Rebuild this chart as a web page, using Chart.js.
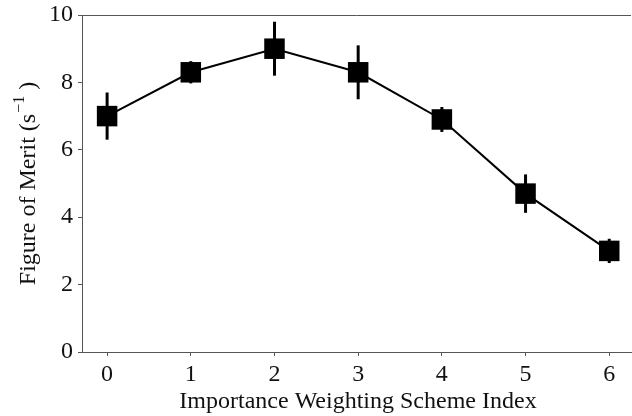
<!DOCTYPE html>
<html><head><meta charset="utf-8">
<script src="https://cdn.jsdelivr.net/npm/chart.js@4"></script>
<style>html,body{margin:0;padding:0;background:#fff}canvas{display:block}</style>
</head><body>
<canvas id="c" width="632" height="416"></canvas>
<script>
// Figure of merit for each importance weighting scheme, with error half-widths
const schemeIndex = [0, 1, 2, 3, 4, 5, 6];
const figureOfMerit = [7.0, 8.3, 9.0, 8.3, 6.9, 4.7, 3.0];
const meritError = [0.7, 0.33, 0.8, 0.8, 0.37, 0.57, 0.36];
const yTickValues = [0, 2, 4, 6, 8, 10];
const xTitle = 'Importance Weighting Scheme Index';
const yTitleMain = 'Figure of Merit (s';
const yTitleSup = '\u22121';
const yTitleEnd = ' )';

const FONT = '"Liberation Serif", "Times New Roman", serif';
const AXIS_GREY = '#555';
const TEXT_SIZE = 24;

// vertical error bars, top spine and axis titles
const decorations = {
  id: 'decorations',
  afterDatasetsDraw(chart) {
    const ctx = chart.ctx;
    const xs = chart.scales.x, ys = chart.scales.y;
    ctx.save();
    ctx.strokeStyle = '#000';
    ctx.lineWidth = 3;
    schemeIndex.forEach((xi, i) => {
      const px = xs.getPixelForValue(xi);
      ctx.beginPath();
      ctx.moveTo(px, ys.getPixelForValue(figureOfMerit[i] + meritError[i]));
      ctx.lineTo(px, ys.getPixelForValue(figureOfMerit[i] - meritError[i]));
      ctx.stroke();
    });
    ctx.restore();
  },
  afterDraw(chart) {
    const ctx = chart.ctx;
    const a = chart.chartArea;
    ctx.save();
    // top spine
    ctx.strokeStyle = AXIS_GREY;
    ctx.lineWidth = 1;
    ctx.beginPath();
    ctx.moveTo(a.left, a.top + 0.5);
    ctx.lineTo(a.right, a.top + 0.5);
    ctx.stroke();

    ctx.fillStyle = '#111';
    // x axis title
    ctx.font = TEXT_SIZE + 'px ' + FONT;
    ctx.textAlign = 'center';
    ctx.textBaseline = 'alphabetic';
    ctx.fillText(xTitle, 358, 408);

    // y axis title with superscript
    ctx.translate(35, 184);
    ctx.rotate(-Math.PI / 2);
    ctx.font = TEXT_SIZE + 'px ' + FONT;
    const w1 = ctx.measureText(yTitleMain).width;
    ctx.font = '16px ' + FONT;
    const w2 = ctx.measureText(yTitleSup).width;
    ctx.font = TEXT_SIZE + 'px ' + FONT;
    const w3 = ctx.measureText(yTitleEnd).width;
    let x0 = -(w1 + w2 + w3) / 2;
    ctx.textAlign = 'left';
    ctx.fillText(yTitleMain, x0, 0);
    ctx.font = '16px ' + FONT;
    ctx.fillText(yTitleSup, x0 + w1 + 1, -11);
    ctx.font = TEXT_SIZE + 'px ' + FONT;
    ctx.fillText(yTitleEnd, x0 + w1 + w2 + 1, 0);
    ctx.restore();
  }
};

new Chart(document.getElementById('c'), {
  type: 'line',
  data: {
    datasets: [{
      data: schemeIndex.map((x, i) => ({ x: x, y: figureOfMerit[i] })),
      borderColor: '#000',
      borderWidth: 2,
      backgroundColor: '#000',
      pointStyle: 'rect',
      pointRadius: 14.5,
      pointBorderWidth: 0,
      tension: 0,
      clip: false
    }]
  },
  options: {
    responsive: false,
    animation: false,
    layout: { autoPadding: false, padding: { top: 15, right: 1, left: 0, bottom: 0 } },
    plugins: { legend: { display: false }, tooltip: { enabled: false } },
    scales: {
      x: {
        type: 'linear',
        min: -0.3,
        max: 6.26,
        afterBuildTicks(s) { s.ticks = schemeIndex.map(v => ({ value: v })); },
        afterFit(s) { s.height = 64; s.paddingLeft = 0; s.paddingRight = 0; },
        grid: { drawOnChartArea: false, drawTicks: true, tickLength: 4, tickColor: AXIS_GREY },
        border: { color: AXIS_GREY, width: 1 },
        ticks: { color: '#111', font: { family: FONT, size: TEXT_SIZE }, padding: 4, maxRotation: 0 }
      },
      y: {
        min: 0,
        max: 10,
        afterBuildTicks(s) { s.ticks = yTickValues.map(v => ({ value: v })); },
        afterFit(s) { s.width = 82; s.paddingTop = 0; s.paddingBottom = 0; },
        grid: { drawOnChartArea: false, drawTicks: true, tickLength: 4, tickColor: AXIS_GREY },
        border: { color: AXIS_GREY, width: 1 },
        ticks: { color: '#111', font: { family: FONT, size: TEXT_SIZE }, padding: 5 }
      }
    }
  },
  plugins: [decorations]
});
</script>
</body></html>
